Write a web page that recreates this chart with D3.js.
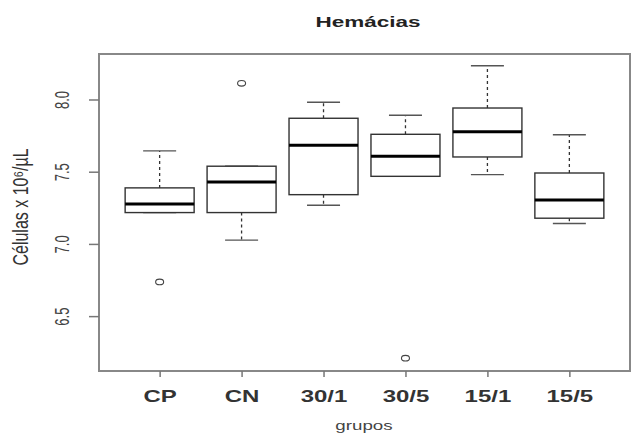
<!DOCTYPE html>
<html>
<head>
<meta charset="utf-8">
<script src="https://cdn.jsdelivr.net/npm/d3@7"></script>
<style>
  body { margin: 0; background: #fff; }
  svg { display: block; font-family: "Liberation Sans", Arial, sans-serif; }
</style>
</head>
<body>
<svg width="631" height="434"></svg>
<script>
// grupos e estatísticas
var groups = ["CP", "CN", "30/1", "30/5", "15/1", "15/5"];
var whiskerLow  = [7.217, 7.026, 7.268, 7.468, 7.480, 7.141];
var q1          = [7.217, 7.217, 7.341, 7.468, 7.602, 7.178];
var median      = [7.277, 7.429, 7.683, 7.607, 7.777, 7.304];
var q3          = [7.388, 7.538, 7.870, 7.759, 7.941, 7.491];
var whiskerHigh = [7.644, 7.538, 7.981, 7.891, 8.234, 7.756];
var outliers    = [[6.737], [8.112], [], [6.209], [], []];
var yTicks = [6.5, 7.0, 7.5, 8.0];

// o gráfico original está esticado na horizontal
var stretch = 1.5;

var svg = d3.select("svg");
var plotLeft = 99, plotRight = 630, plotTop = 54, plotBottom = 371;

var x = d3.scaleLinear().domain([0.26, 6.74]).range([plotLeft, plotRight]);
var y = d3.scaleLinear().domain([6.12, 8.315]).range([plotBottom, plotTop]);

var boxW = 69, capW = 33;

var data = groups.map(function(g, i) {
  return { name: g, i: i + 1, lo: whiskerLow[i], q1: q1[i], med: median[i],
           q3: q3[i], hi: whiskerHigh[i], out: outliers[i] };
});

var box = svg.append("g").selectAll("g")
  .data(data)
  .enter().append("g")
  .attr("transform", function(d) { return "translate(" + x(d.i) + ",0)"; });

// whiskers (tracejado)
box.append("line")
  .attr("x1", 0).attr("x2", 0)
  .attr("y1", function(d) { return y(d.q3); })
  .attr("y2", function(d) { return y(d.hi); })
  .attr("stroke", "#333").attr("stroke-width", 1.3)
  .attr("stroke-dasharray", "3,3");
box.append("line")
  .attr("x1", 0).attr("x2", 0)
  .attr("y1", function(d) { return y(d.q1); })
  .attr("y2", function(d) { return y(d.lo); })
  .attr("stroke", "#333").attr("stroke-width", 1.3)
  .attr("stroke-dasharray", "3,3");

// caps
box.append("line")
  .attr("x1", -capW / 2).attr("x2", capW / 2)
  .attr("y1", function(d) { return y(d.hi); })
  .attr("y2", function(d) { return y(d.hi); })
  .attr("stroke", "#555").attr("stroke-width", 1.4);
box.append("line")
  .attr("x1", -capW / 2).attr("x2", capW / 2)
  .attr("y1", function(d) { return y(d.lo); })
  .attr("y2", function(d) { return y(d.lo); })
  .attr("stroke", "#555").attr("stroke-width", 1.4);

// caixa
box.append("rect")
  .attr("x", -boxW / 2)
  .attr("width", boxW)
  .attr("y", function(d) { return y(d.q3); })
  .attr("height", function(d) { return y(d.q1) - y(d.q3); })
  .attr("fill", "#fff")
  .attr("stroke", "#333").attr("stroke-width", 1.4);

// mediana
box.append("line")
  .attr("x1", -boxW / 2).attr("x2", boxW / 2)
  .attr("y1", function(d) { return y(d.med); })
  .attr("y2", function(d) { return y(d.med); })
  .attr("stroke", "#000").attr("stroke-width", 3);

// outliers
box.selectAll("ellipse")
  .data(function(d) { return d.out; })
  .enter().append("ellipse")
  .attr("cx", 0)
  .attr("cy", function(v) { return y(v); })
  .attr("rx", 4).attr("ry", 2.8)
  .attr("fill", "none")
  .attr("stroke", "#444").attr("stroke-width", 1.1);

// moldura
svg.append("rect")
  .attr("x", plotLeft).attr("y", plotTop)
  .attr("width", plotRight - plotLeft).attr("height", plotBottom - plotTop)
  .attr("fill", "none")
  .attr("stroke", "#888").attr("stroke-width", 2);

// eixo y
var yAxis = svg.append("g")
  .attr("transform", "translate(" + plotLeft + ",0)")
  .call(d3.axisLeft(y).tickValues(yTicks).tickSize(10).tickFormat(d3.format(".1f")));
yAxis.select(".domain").remove();
yAxis.selectAll(".tick line").attr("stroke", "#777").attr("stroke-width", 1.5);
yAxis.selectAll(".tick text")
  .attr("x", null).attr("dy", null)
  .attr("text-anchor", "middle")
  .attr("font-size", 13)
  .attr("fill", "#444")
  .attr("transform", "translate(-29,0) rotate(-90) scale(1," + stretch + ") translate(0,-1)");

// eixo x
var xAxis = svg.append("g")
  .attr("transform", "translate(0," + plotBottom + ")")
  .call(d3.axisBottom(x).tickValues(data.map(function(d) { return d.i; })).tickSize(6)
    .tickFormat(function(v) { return groups[v - 1]; }));
xAxis.select(".domain").remove();
xAxis.selectAll(".tick line").attr("stroke", "#777").attr("stroke-width", 1.5);
xAxis.selectAll(".tick text")
  .attr("y", null).attr("dy", null)
  .attr("font-size", 16)
  .attr("font-weight", "bold")
  .attr("fill", "#333")
  .attr("transform", "translate(0,31) scale(" + stretch + ",1)");

// títulos
svg.append("text")
  .attr("transform", "translate(368,27) scale(" + stretch + ",1)")
  .attr("text-anchor", "middle")
  .attr("font-size", 15)
  .attr("font-weight", "bold")
  .attr("fill", "#222")
  .text("Hemácias");

svg.append("text")
  .attr("transform", "translate(364,430) scale(" + stretch + ",1)")
  .attr("text-anchor", "middle")
  .attr("font-size", 12.5)
  .attr("fill", "#444")
  .text("grupos");

svg.append("text")
  .attr("transform", "translate(28,207) rotate(-90) scale(1,1.35)")
  .attr("text-anchor", "middle")
  .attr("font-size", 16)
  .attr("fill", "#333")
  .text("Células x 10⁶/µL");
</script>
</body>
</html>
